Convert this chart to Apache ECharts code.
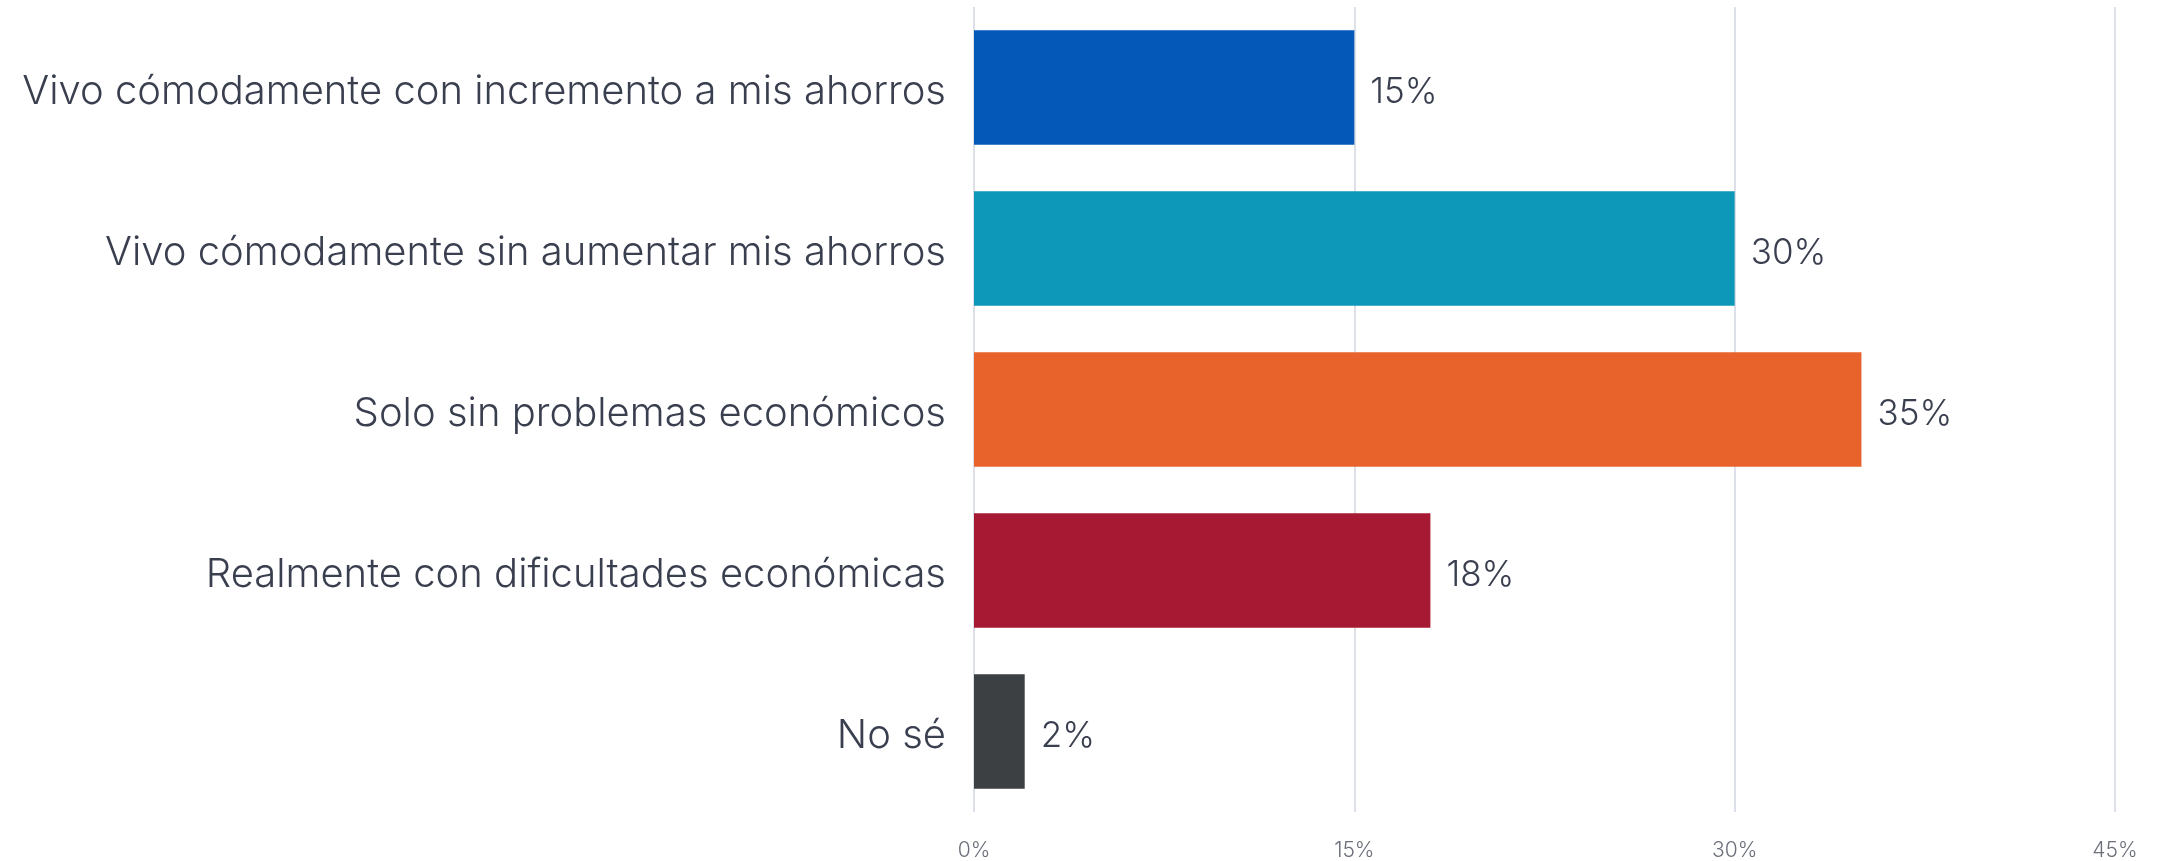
<!DOCTYPE html>
<html>
<head>
<meta charset="utf-8">
<script src="https://cdn.jsdelivr.net/npm/echarts@6/dist/echarts.min.js"></script>
<style>
html,body{margin:0;padding:0;background:#fff;}
#c{width:2157px;height:861px;}
</style>
</head>
<body>
<div id="c"></div>
<script>
const categories = [
  "Vivo cómodamente con incremento a mis ahorros",
  "Vivo cómodamente sin aumentar mis ahorros",
  "Solo sin problemas económicos",
  "Realmente con dificultades económicas",
  "No sé"
];
const values = [15, 30, 35, 18, 2];
const barColors = ["#0358B8", "#0D97B8", "#E8622B", "#A71932", "#3D4043"];
const xTicks = [0, 15, 30, 45];

const FONT = "Inter";
const chart = echarts.init(document.getElementById('c'), null, {renderer: 'canvas'});
chart.setOption({
  animation: false,
  backgroundColor: '#ffffff',
  grid: {left: 974, right: 42, top: 7, bottom: 49, containLabel: false},
  xAxis: {
    type: 'value', min: xTicks[0], max: xTicks[xTicks.length - 1], interval: 15,
    axisLine: {show: false}, axisTick: {show: false},
    splitLine: {show: true, lineStyle: {color: '#dde0e8', width: 2}},
    axisLabel: {
      margin: 28, color: '#6b6f7a', fontFamily: FONT, fontWeight: 300, fontSize: 21,
      formatter: v => v + '%'
    }
  },
  yAxis: {
    type: 'category', data: categories, inverse: true,
    axisLine: {show: false}, axisTick: {show: false},
    axisLabel: {
      margin: 28,
      formatter: v => '{t|' + v + '}',
      rich: {t: {color: '#3a3f4f', fontFamily: FONT, fontWeight: 300, fontSize: 40,
        lineHeight: 40, padding: [8, 0, 0, 0]}}
    }
  },
  series: [{
    type: 'bar',
    barWidth: '71%',
    data: values.map((v, i) => ({value: v, itemStyle: {color: barColors[i]}})),
    label: {
      show: true, position: 'right', distance: 16,
      formatter: p => '{t|' + p.value + '%}',
      rich: {t: {color: '#3a3f4f', fontFamily: FONT, fontWeight: 300, fontSize: 35,
        lineHeight: 35, padding: [10, 0, 0, 0]}}
    }
  }]
});
</script>
</body>
</html>
